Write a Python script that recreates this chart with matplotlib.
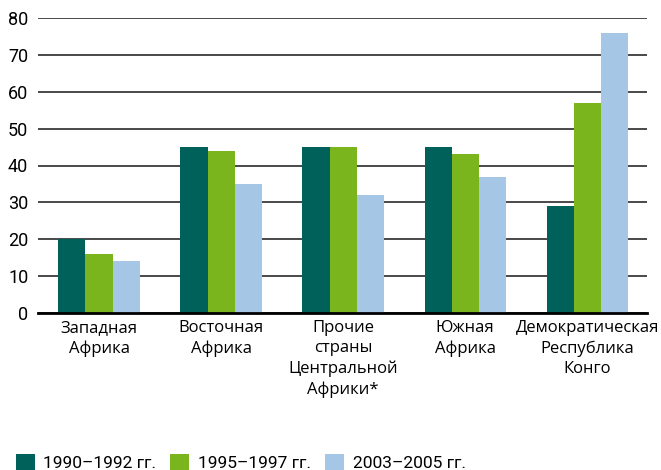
import numpy as np
import matplotlib.pyplot as plt

regiones = ['Западная\nАфрика', 'Восточная\nАфрика', 'Прочие\nстраны\nЦентральной\nАфрики*',
            'Южная\nАфрика', 'Демократическая\nРеспублика\nКонго']
periodos = ['1990–1992 гг.', '1995–1997 гг.', '2003–2005 гг.']
v1990 = [20, 45, 45, 45, 29]
v1995 = [16, 44, 45, 43, 57]
v2003 = [14, 35, 32, 37, 76]
colores = ['#00605a', '#7ab51d', '#a6c6e6']

plt.rcParams['font.family'] = ['Open Sans', 'DejaVu Sans']

fig = plt.figure(figsize=(6.61, 4.70), dpi=100)
ax = fig.add_axes([38/661, 157/470, (647-38)/661, 295/470])

x = np.arange(len(regiones))
w = 0.222
for i, (vals, lab) in enumerate(zip([v1990, v1995, v2003], periodos)):
    ax.bar(x + (i - 1)*w, vals, w, color=colores[i], label=lab, zorder=3)

ax.set_ylim(0, 80)
ax.set_xlim(-0.5, 4.49)
ax.set_yticks(range(0, 81, 10))
ax.yaxis.grid(True, color='#2a2a2a', linewidth=1.2, zorder=0)
ax.set_axisbelow(True)
for s in ['top', 'right', 'left']:
    ax.spines[s].set_visible(False)
ax.spines['bottom'].set_linewidth(2)
ax.spines['bottom'].set_zorder(4)
ax.tick_params(axis='y', length=0, pad=7, labelsize=13)
ax.tick_params(axis='x', length=0, pad=5, labelsize=12)
ax.set_xticks(x)
ax.set_xticklabels(regiones, linespacing=1.35)
for t in ax.get_yticklabels():
    t.set_family(['Roboto', 'DejaVu Sans'])

fig.legend(loc='lower left', bbox_to_anchor=(0.0, -0.035), ncol=3, frameon=False,
           handlelength=1.1, handleheight=1.1, handletextpad=0.5,
           columnspacing=0.8, prop={'family': ['Roboto', 'DejaVu Sans'], 'size': 12.5})

fig.savefig('out.png', dpi=100)
